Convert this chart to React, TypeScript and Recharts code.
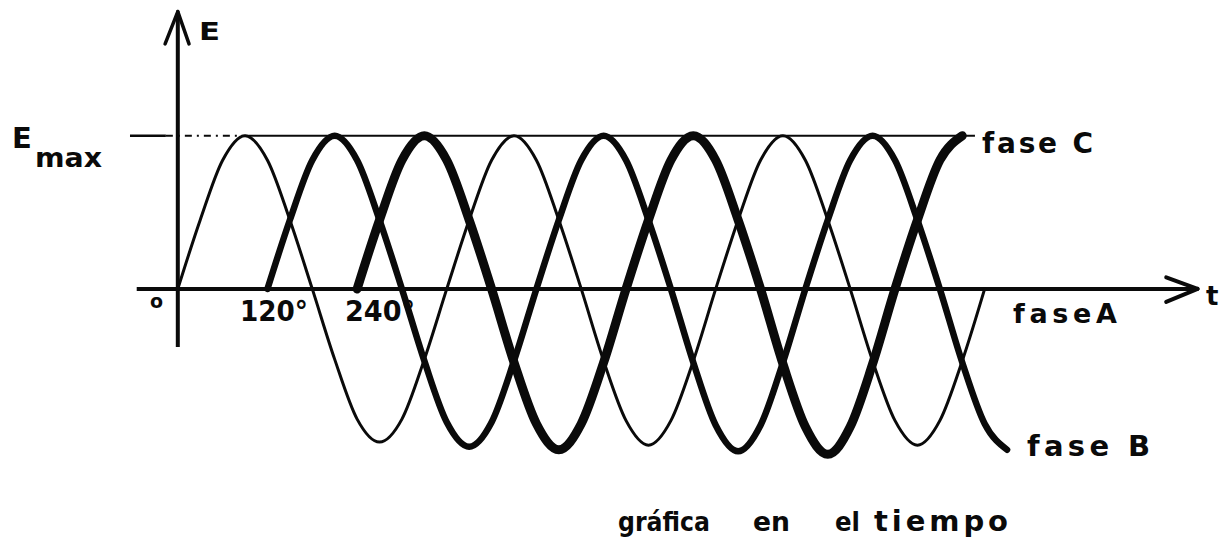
import React from 'react';
import { LineChart, Line, XAxis, YAxis, ReferenceLine } from 'recharts';

// electrical angle (degrees) of each sample
const degrees = [
  0, 30, 60, 90, 120, 150, 180, 210, 240, 270, 300, 330, 360, 390, 420, 450, 480, 510, 540,
  570, 600, 630, 660, 690, 720, 750, 780, 810, 840, 870, 900, 930, 960, 990, 1020, 1050, 1080, 1110,
];

// E / Emax
const faseA: (number | null)[] = [
  0, 0.45, 0.84, 1.0, 0.84, 0.45, 0, -0.46, -0.85, -1.0, -0.85, -0.46, 0, 0.45, 0.84, 1.0, 0.84, 0.45, 0,
  -0.47, -0.86, -1.02, -0.86, -0.47, 0, 0.45, 0.84, 1.0, 0.84, 0.45, 0, -0.47, -0.86, -1.02, -0.86, -0.47, 0, null,
];
const faseB: (number | null)[] = [
  null, null, null, null, 0, 0.45, 0.84, 1.0, 0.84, 0.45, 0, -0.47, -0.87, -1.03, -0.87, -0.47, 0, 0.45, 0.84,
  1.0, 0.84, 0.45, 0, -0.48, -0.89, -1.06, -0.89, -0.48, 0, 0.45, 0.84, 1.0, 0.84, 0.45, 0, -0.48, -0.88, -1.05,
];
const faseC: (number | null)[] = [
  null, null, null, null, null, null, null, null, 0, 0.45, 0.84, 1.0, 0.84, 0.45, 0, -0.48, -0.88, -1.05, -0.88,
  -0.48, 0, 0.45, 0.84, 1.0, 0.84, 0.45, 0, -0.49, -0.9, -1.08, -0.9, -0.49, 0, 0.45, 0.84, 1.0, null, null,
];

const angleLabels = ['120°', '240°'];
const phaseLabels = ['fase C', 'faseA', 'fase B'];
const captionWords = ['gráfica', 'en', 'el', 'tiempo'];

const data = degrees.map((d, i) => ({ deg: d, A: faseA[i], B: faseB[i], C: faseC[i] }));

const INK = '#0a0a0a';
const FONT = '"DejaVu Sans", Verdana, sans-serif';

export default function App() {
  const t = { fontFamily: FONT, fontWeight: 700, fill: INK } as const;
  return (
    <div style={{ position: 'absolute', left: 0, top: 0, width: 1222, height: 541, background: '#ffffff' }}>
      <div style={{ position: 'absolute', left: 0, top: 0 }}>
        <LineChart width={1222} height={541} data={data} margin={{ top: 4, right: 2, bottom: 7, left: 0 }}>
          <XAxis dataKey="deg" type="number" domain={[-238, 1395]} hide allowDataOverflow />
          <YAxis type="number" domain={[-1.6, 1.86]} hide allowDataOverflow />

          {/* Emax reference line */}
          <ReferenceLine segment={[{ x: -64, y: 1 }, { x: -16, y: 1 }]} stroke={INK} strokeWidth={2.5} ifOverflow="visible" />
          <ReferenceLine segment={[{ x: -16, y: 1 }, { x: 85, y: 1 }]} stroke={INK} strokeWidth={2} strokeDasharray="7 5 2 5" ifOverflow="visible" />
          <ReferenceLine segment={[{ x: 85, y: 1 }, { x: 1067, y: 1 }]} stroke={INK} strokeWidth={1.8} ifOverflow="visible" />

          {/* vertical E axis with arrow */}
          <ReferenceLine segment={[{ x: 0, y: -0.38 }, { x: 0, y: 1.8 }]} stroke={INK} strokeWidth={4} ifOverflow="visible" />
          <ReferenceLine segment={[{ x: -17, y: 1.6 }, { x: 0, y: 1.81 }]} stroke={INK} strokeWidth={3.5} strokeLinecap="round" ifOverflow="visible" />
          <ReferenceLine segment={[{ x: 15, y: 1.6 }, { x: 0, y: 1.81 }]} stroke={INK} strokeWidth={3.5} strokeLinecap="round" ifOverflow="visible" />

          {/* horizontal t axis with arrow */}
          <ReferenceLine segment={[{ x: -55, y: 0 }, { x: 1364, y: 0 }]} stroke={INK} strokeWidth={4} ifOverflow="visible" />
          <ReferenceLine segment={[{ x: 1323, y: 0.075 }, { x: 1365, y: 0 }]} stroke={INK} strokeWidth={4} strokeLinecap="round" ifOverflow="visible" />
          <ReferenceLine segment={[{ x: 1323, y: -0.085 }, { x: 1365, y: 0 }]} stroke={INK} strokeWidth={4} strokeLinecap="round" ifOverflow="visible" />

          <Line type="monotone" dataKey="A" stroke={INK} strokeWidth={3} dot={false} activeDot={false}
            isAnimationActive={false} strokeLinecap="round" strokeLinejoin="round" />
          <Line type="monotone" dataKey="B" stroke={INK} strokeWidth={6.5} dot={false} activeDot={false}
            isAnimationActive={false} strokeLinecap="round" strokeLinejoin="round" />
          <Line type="monotone" dataKey="C" stroke={INK} strokeWidth={9} dot={false} activeDot={false}
            isAnimationActive={false} strokeLinecap="round" strokeLinejoin="round" />
        </LineChart>
      </div>

      <svg width={1222} height={541} style={{ position: 'absolute', left: 0, top: 0, pointerEvents: 'none' }}>
        <text x={199} y={40} fontSize={25} textLength={21} lengthAdjust="spacingAndGlyphs" {...t}>E</text>
        <text x={12} y={148} fontSize={29} {...t}>E</text>
        <text x={35} y={167} fontSize={27} textLength={67} lengthAdjust="spacingAndGlyphs" {...t}>max</text>
        <text x={150} y={308} fontSize={19} {...t}>o</text>
        <text x={240} y={321} fontSize={28} textLength={68} lengthAdjust="spacingAndGlyphs" {...t}>{angleLabels[0]}</text>
        <text x={345} y={321} fontSize={28} textLength={70} lengthAdjust="spacingAndGlyphs" {...t}>{angleLabels[1]}</text>
        <text x={982} y={153} fontSize={28} textLength={111} lengthAdjust="spacing" {...t}>{phaseLabels[0]}</text>
        <text x={1013} y={323} fontSize={27} textLength={104} lengthAdjust="spacing" {...t}>{phaseLabels[1]}</text>
        <text x={1027} y={456} fontSize={29} textLength={123} lengthAdjust="spacing" {...t}>{phaseLabels[2]}</text>
        <text x={1206} y={305} fontSize={26} {...t}>t</text>
        <text x={618} y={531} fontSize={27} textLength={92} lengthAdjust="spacingAndGlyphs" {...t}>{captionWords[0]}</text>
        <text x={753} y={531} fontSize={27} textLength={37} lengthAdjust="spacingAndGlyphs" {...t}>{captionWords[1]}</text>
        <text x={835} y={531} fontSize={27} textLength={25} lengthAdjust="spacingAndGlyphs" {...t}>{captionWords[2]}</text>
        <text x={874} y={531} fontSize={29} textLength={134} lengthAdjust="spacing" {...t}>{captionWords[3]}</text>
      </svg>
    </div>
  );
}
